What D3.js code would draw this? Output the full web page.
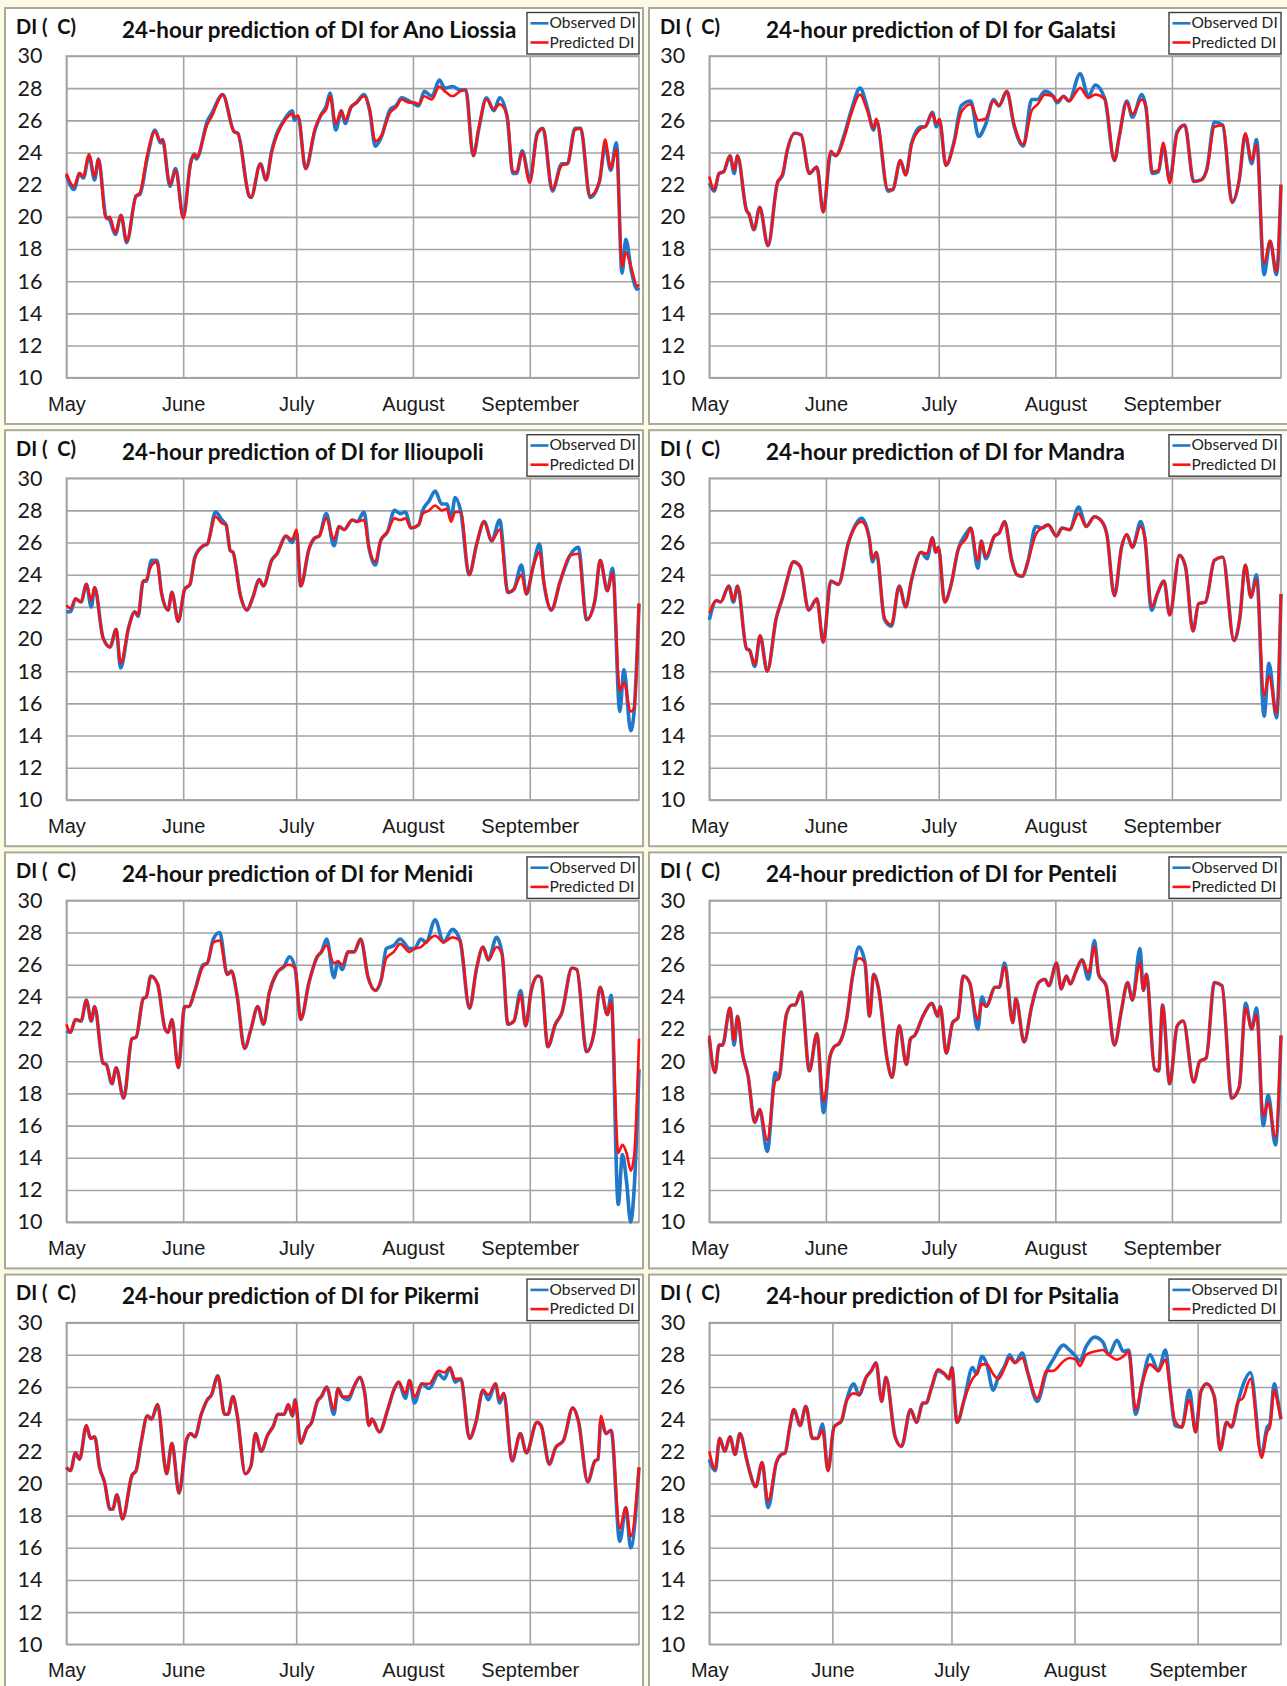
<!DOCTYPE html>
<html>
<head>
<meta charset="utf-8">
<script src="https://cdn.jsdelivr.net/npm/d3@7"></script>
<style>
  html, body { margin: 0; padding: 0; background: #fcfae4; }
  svg { display: block; }
</style>
</head>
<body>
<div id="chart"></div>
<script>
// Day index counted from 1 May (DI in C)
const monthLabels = ["May", "June", "July", "August", "September"];
const monthStarts = [0, 31, 61, 92, 123];
const yTicks = [10, 12, 14, 16, 18, 20, 22, 24, 26, 28, 30];

const anoLiossiaDay = [0,2,3.5,4.5,6,7.5,8.5,10.5,11.5,13,14.5,16,18.5,19.5,21.5,23.5,25,25.5,27.5,29,31,33,34,34.5,37.5,38.5,41.5,44.5,45.5,48.5,49,51.5,53,54.5,58,60,60.5,61.5,63.5,66,67.5,69,70,71.5,73,74,75.5,77,79,80.5,82,83.5,86,87.5,89,91,92.5,93.5,95,97,99,100.5,102.5,104.5,106,108,109.5,111.5,113.5,115,117,118.5,119.5,121,123,125,126.5,129,131.5,133,135,136.5,139,141.5,143,144.5,146,147.5,148.5,150,151.5,152];
const anoLiossiaObs = [22.6,21.7,22.7,22.4,23.8,22.3,23.6,20.0,19.8,18.9,20.1,18.4,21.3,21.4,23.7,25.4,24.6,24.8,21.9,23.0,20.0,23.4,23.9,23.6,26.0,26.4,27.6,25.3,25.2,21.3,21.2,23.3,22.3,24.1,26.1,26.6,26.0,26.2,23.0,25.4,26.3,26.9,27.7,25.4,26.6,25.8,26.8,27.1,27.6,26.6,24.4,24.9,26.7,26.9,27.4,27.2,27.0,26.9,27.8,27.5,28.5,28.0,28.1,27.9,27.9,23.8,25.5,27.4,26.6,27.4,26.2,22.7,22.7,24.1,22.3,25.2,25.5,21.6,23.3,23.3,25.5,25.5,21.2,22.2,24.4,22.9,24.6,16.5,18.6,16.6,15.5,15.6];
const anoLiossiaPred = [22.7,21.9,22.7,22.5,23.9,22.5,23.6,19.9,20.0,19.0,20.1,18.5,21.3,21.5,23.9,25.3,24.7,24.8,22.0,22.9,19.9,23.3,23.9,23.7,25.8,26.2,27.6,25.3,25.2,21.3,21.2,23.3,22.3,24.0,26.0,26.4,26.2,26.3,23.0,25.5,26.3,26.7,27.5,25.8,26.6,26.0,26.8,27.1,27.5,26.7,24.7,25.0,26.5,26.8,27.3,27.1,27.1,27.0,27.5,27.3,28.1,27.8,27.5,27.8,27.9,23.8,25.6,27.3,26.7,27.0,26.3,22.8,22.8,24.0,22.1,25.1,25.5,21.7,23.2,23.3,25.4,25.5,21.3,22.2,24.8,23.0,24.2,16.9,17.8,16.8,15.7,15.8];

const galatsiDay = [0,1.3,2.6,3.8,5.5,6.6,7.5,9.9,10.5,11.9,13.4,15.6,18.1,19.5,20.7,22.7,24.4,26.6,28.6,30.3,32.3,33.6,36,37.6,40.1,42,43.7,44.4,47.5,48.8,50.8,52.2,53.8,56.3,57.4,59.3,60.4,61.2,62.9,65,67,69.5,71.6,73.4,75.6,77,79.1,81,83.5,85.7,87.3,89.2,91.4,92.5,94.2,95.6,98.6,100.8,102.6,105.2,107.7,109,111,112.5,115,116.1,117.8,119.4,120.7,122.4,124.4,126.4,128.8,130.8,132.3,134.3,136.5,139,140.9,142.5,144.2,145.5,147.5,149.1,150.8,152];
const galatsiObs = [22.1,21.6,22.7,22.8,23.8,22.7,23.8,20.4,20.2,19.2,20.6,18.2,22.1,22.6,24.1,25.2,25.1,22.7,23.1,20.3,24.0,23.8,25.2,26.5,28.0,26.8,25.4,26.0,21.6,21.7,23.5,22.6,24.6,25.6,25.6,26.5,25.6,26.0,23.2,24.6,26.9,27.2,25.0,25.7,27.3,26.9,27.8,25.7,24.4,27.3,27.3,27.8,27.5,27.1,27.5,27.2,28.9,27.5,28.2,27.3,23.5,25.0,27.2,26.2,27.6,26.8,22.7,22.8,24.4,22.3,25.3,25.7,22.2,22.3,23.0,25.9,25.7,20.9,22.3,25.1,23.3,24.8,16.4,18.5,16.4,22.0];
const galatsiPred = [22.5,21.7,22.7,22.8,23.8,22.9,23.8,20.4,20.2,19.2,20.6,18.2,22.1,22.7,24.1,25.2,25.1,22.7,23.1,20.3,24.1,23.8,25.0,26.3,27.6,26.6,25.5,26.1,21.7,21.7,23.5,22.6,24.5,25.5,25.6,26.4,25.8,26.1,23.2,24.5,26.5,27.0,26.0,26.1,27.2,26.9,27.8,25.8,24.5,26.6,27.0,27.6,27.5,27.2,27.5,27.2,28.0,27.4,27.6,27.3,23.5,25.0,27.1,26.4,27.3,26.8,22.8,22.9,24.6,22.1,25.2,25.7,22.2,22.3,22.9,25.6,25.7,20.9,22.3,25.2,23.5,24.5,17.1,18.5,16.6,22.0];

const ilioupoliDay = [0,1.1,2.4,3.9,5.3,6.6,7.5,9.7,11.6,13.2,14.4,16.5,18.2,19,20.4,21.2,22.6,24,25.3,27,28,29.7,31.4,32.8,34.1,36.3,37.4,39.6,41.3,42.4,43.5,44.2,46.2,47.9,49.5,51.2,52.3,54.5,55.9,58.3,59.9,61.1,62.2,64.4,66,67.1,69,71,72.4,73.7,75.9,77.2,79,80.3,82,83.4,85.3,87.1,88.6,90,91.5,93.5,94.6,96.3,97.9,99.6,101,102.1,103.2,104.7,106.9,108.9,110.9,112.9,115,117.2,118.8,120.8,122.1,123.8,125.6,126.7,128.7,131.1,133.7,135.9,138.1,140.3,141.7,143.6,145,146.9,148,149.8,150.7,152];
const ilioupoliObs = [21.7,21.7,22.5,22.3,23.4,22.0,23.2,20.1,19.5,20.6,18.2,20.7,21.7,21.4,23.6,23.6,24.9,24.9,22.8,21.8,22.9,21.1,23.1,23.4,25.1,25.8,25.9,27.9,27.4,27.1,25.5,25.4,22.7,21.8,22.6,23.7,23.3,24.9,25.3,26.4,26.0,26.6,23.3,25.6,26.3,26.4,27.8,25.8,27.0,26.8,27.4,27.3,27.9,25.7,24.6,26.1,26.7,28.0,27.8,27.9,26.9,27.1,28.0,28.6,29.2,28.4,28.4,27.5,28.8,27.9,24.0,25.9,27.3,26.1,27.4,22.9,23.1,24.6,22.8,24.4,25.9,23.6,21.8,23.6,25.2,25.7,21.2,22.4,24.9,23.0,24.4,15.5,18.1,14.3,15.5,22.2];
const ilioupoliPred = [22.1,21.9,22.5,22.3,23.4,22.4,23.2,20.1,19.5,20.6,18.5,20.7,21.7,21.5,23.6,23.7,24.6,24.8,22.8,21.8,22.9,21.1,23.1,23.4,25.0,25.8,25.9,27.6,27.2,27.1,25.5,25.4,22.7,21.8,22.6,23.7,23.3,24.9,25.3,26.4,26.2,26.8,23.3,25.6,26.3,26.4,27.5,26.2,27.0,26.8,27.4,27.3,27.4,25.7,24.8,26.1,26.7,27.5,27.4,27.5,26.9,27.1,27.8,28.0,28.3,28.0,28.1,27.3,27.9,27.9,24.0,25.9,27.3,26.1,26.8,22.9,23.1,24.0,22.8,24.4,25.4,23.6,21.8,23.6,25.2,25.3,21.2,22.4,24.9,23.0,24.1,16.8,17.3,15.5,15.7,22.2];

const mandraDay = [0,1.9,3,5.2,6.4,7.5,9.9,10.7,12.1,13.5,15.4,17.8,19.5,20.7,22.4,24.2,26.4,28.6,30.3,32.3,34.3,37,40.5,42.5,43.4,44.4,46.6,48.4,50.5,52.2,53.8,56.3,57.9,59.3,60.2,60.9,62.6,64.2,66.2,68.4,69.5,71.4,72.3,73.5,75.8,77.1,78.5,80.4,81.8,83.2,84.8,86.8,88.4,90.1,92.3,93.8,95.8,98.2,100.2,102.4,104.4,105.7,107.7,109.6,111,112.5,114.7,115.8,117.6,119.1,120.9,122.4,125,126.6,128.6,130.1,131.9,134.3,136.5,139.5,141.1,142.5,144,145.5,147.5,148.8,150.8,152];
const mandraObs = [21.2,22.4,22.3,23.3,22.3,23.3,19.4,19.3,18.3,20.2,18.0,21.3,22.6,23.7,24.8,24.5,21.8,22.5,19.8,23.6,23.4,26.0,27.5,26.3,24.8,25.4,21.2,20.8,23.3,22.0,23.7,25.4,25.0,26.3,25.4,25.7,22.3,23.3,25.6,26.6,26.9,24.4,26.1,25.0,26.4,26.6,27.3,24.9,24.0,23.9,24.9,27.0,26.9,27.1,26.4,26.9,26.8,28.2,27.0,27.6,27.3,26.5,22.7,25.7,26.5,25.7,27.3,26.3,21.8,22.8,23.6,21.5,25.2,24.5,20.5,22.2,22.3,24.9,25.1,19.9,21.4,24.6,22.6,24.0,15.2,18.5,15.1,22.8];
const mandraPred = [21.6,22.4,22.3,23.3,22.4,23.3,19.4,19.3,18.4,20.2,18.0,21.3,22.6,23.7,24.8,24.5,21.8,22.5,19.8,23.6,23.4,26.0,27.3,26.3,25.0,25.4,21.3,20.9,23.3,22.0,23.7,25.4,25.3,26.3,25.4,25.7,22.3,23.3,25.6,26.3,26.9,24.9,26.1,25.1,26.4,26.6,27.3,24.9,24.0,23.9,24.9,26.5,26.9,27.1,26.4,26.9,26.8,27.8,27.0,27.6,27.3,26.5,22.7,25.7,26.5,25.7,27.0,26.3,22.0,22.8,23.6,21.5,25.2,24.5,20.5,22.2,22.3,24.9,25.1,19.9,21.4,24.6,22.6,23.7,16.5,17.7,15.4,22.8];

const menidiDay = [0,1.1,2.4,3.9,5.3,6.6,7.5,9.7,10.6,12.1,13.2,15.2,17.4,18.5,20.4,21.2,22.4,24.2,26.2,27,28,29.7,31.4,32.5,34.1,36.3,37.4,39,40.7,42.7,43.8,45.3,47.3,49,50.8,52.3,53.9,55.9,57.8,59.2,60.7,62.2,64.4,66.6,67.7,69.1,71,72.1,73.2,74.8,76.4,78.1,80.1,82,83.6,84.9,86.9,88.6,91.1,92.4,94.1,95.5,97.9,100.1,102.5,104.5,107,108.9,110.6,112,114.2,115.7,117.2,118.8,120.6,121.9,123.4,125.2,126,127.8,129.8,131.5,134.2,135.5,138.1,140,141.7,143.6,144.6,146.5,147.6,148.7,149.8,150.7,152];
const menidiObs = [21.9,21.8,22.6,22.5,23.8,22.5,23.4,19.9,19.8,18.6,19.6,17.7,21.4,21.5,23.9,24.0,25.3,24.8,22.0,21.8,22.6,19.6,23.4,23.4,24.4,26.0,26.1,27.6,28.0,25.4,25.6,24.1,20.8,22.0,23.4,22.3,24.3,25.5,25.9,26.5,25.8,22.6,24.9,26.5,26.8,27.6,25.2,26.2,25.7,26.8,26.8,27.6,25.2,24.4,25.1,27.0,27.2,27.6,27.0,27.0,27.6,27.4,28.8,27.4,28.2,27.5,23.3,25.8,27.1,26.3,27.7,26.6,22.3,22.5,24.4,22.2,24.4,25.3,25.2,20.9,22.3,23.0,25.8,25.7,20.6,21.7,24.6,22.9,24.1,11.1,14.2,12.5,10.0,12.0,19.5];
const menidiPred = [22.3,21.8,22.6,22.5,23.8,22.5,23.4,19.9,19.8,18.6,19.6,17.7,21.4,21.5,23.9,24.0,25.3,24.8,22.0,21.8,22.6,19.6,23.4,23.4,24.4,25.9,26.1,27.4,27.5,25.4,25.6,24.1,20.8,22.0,23.4,22.3,24.3,25.5,25.9,26.0,25.8,22.6,24.9,26.5,26.8,27.2,26.1,26.2,26.0,26.8,26.8,27.6,25.2,24.4,25.1,26.4,26.8,27.3,26.8,27.0,27.1,27.4,27.8,27.4,27.7,27.5,23.3,25.8,27.1,26.3,27.1,26.6,22.3,22.5,24.1,22.2,24.4,25.3,25.2,20.9,22.3,23.0,25.8,25.7,20.6,21.7,24.6,22.9,23.7,14.3,14.8,14.3,13.2,14.1,21.4];

const penteliDay = [0,1.5,2.6,3.5,5.5,6.6,7.5,8.8,10.3,12.1,13.4,15.4,17.6,18.4,20.5,22,22.8,24.4,26.6,28.6,30.4,32.1,33.2,34.5,36.5,38.1,39.8,41.4,42.6,43.7,45,47.3,48.6,50.5,52.4,53.5,54.6,56.8,59.2,60.7,61.4,63,64.7,66.1,67.5,69.2,71.4,72.5,73.6,76,77.1,78.5,80.7,81.5,83.7,85.7,87.6,89.2,90.3,92.3,93.6,94.9,96,97.5,99.1,100.8,102.4,103.5,105.5,107.7,109.6,111.2,112.5,114.5,115.4,116.2,118.4,119.5,120.5,122.4,124.4,126,128.8,130.4,132.1,134.3,136.3,138.9,140.9,142.6,144.2,145.5,147.3,148.6,150.5,152];
const penteliObs = [21.4,19.3,21.0,21.0,23.3,21.0,22.8,20.5,19.1,16.2,17.0,14.4,19.3,18.9,22.9,23.5,23.5,24.3,19.4,21.7,16.8,20.3,20.9,21.1,22.6,25.3,27.1,26.1,22.8,25.4,24.5,20.1,19.0,22.2,19.8,21.4,21.6,22.8,23.6,22.8,23.4,20.5,22.4,22.7,25.3,24.9,22.0,24.0,23.4,24.6,24.6,26.1,22.4,23.9,21.2,23.4,24.9,25.1,24.7,26.1,24.5,25.3,24.8,25.6,26.3,25.1,27.5,25.4,24.7,21.0,23.2,24.9,23.8,27.0,24.4,25.4,19.5,19.4,23.5,18.6,22.2,22.5,18.7,20.0,20.2,24.9,24.7,17.7,18.4,23.6,22.0,23.3,16.0,17.9,14.8,21.6];
const penteliPred = [21.6,19.3,21.0,21.0,23.3,21.3,22.8,20.5,19.1,16.2,17.0,15.1,18.8,18.9,22.9,23.5,23.5,24.3,19.4,21.7,17.5,20.3,20.9,21.1,22.6,25.3,26.4,26.1,22.8,25.4,24.5,20.1,19.0,22.2,19.8,21.4,21.6,22.8,23.6,22.8,23.4,20.5,22.4,22.7,25.3,24.9,22.6,23.6,23.4,24.6,24.6,25.9,22.4,23.9,21.2,23.4,24.9,25.1,24.7,26.1,24.5,25.3,24.8,25.6,26.3,25.5,27.1,25.4,24.7,21.0,23.2,24.9,23.8,26.1,24.4,25.4,19.5,19.4,23.5,18.6,22.2,22.5,18.7,20.0,20.2,24.9,24.7,17.7,18.4,23.3,22.0,22.9,16.6,17.4,15.3,21.6];

const pikermiDay = [0,1.1,2.4,3.5,5.3,6.4,7.5,8.8,10.1,11.6,12.3,13.4,14.9,17.4,18.5,19.8,21.5,22.6,24.2,26.2,26.6,28,29.9,31.9,33,34.1,35.8,37.4,38.5,40.2,42,42.9,44.2,45.3,47.5,49,50.2,51.7,53.4,55,56.1,57.8,58.9,60,60.7,62.2,63.8,65.1,66.6,67.7,69.1,71,72.1,73.2,74.8,76.5,77.9,79.2,80.3,81.1,83.1,85.3,86.9,88.2,90,91.1,92.4,94.4,96.3,98.8,100.3,101.8,103.2,104.7,107,108.7,110.6,112,113.9,115,116.1,118.3,120.5,122.1,124.9,126,128.2,129.8,132,134.4,135.9,138.4,140.3,141.1,141.9,143.2,144.6,146.9,148.5,149.8,152];
const pikermiObs = [21.0,20.8,21.9,21.5,23.6,22.8,22.9,21.0,20.1,18.4,18.4,19.3,17.8,20.5,20.8,22.5,24.2,24.0,24.9,21.0,20.6,22.5,19.4,22.7,23.1,22.9,24.3,25.2,25.5,26.7,24.3,24.3,25.4,24.3,20.6,21.1,23.1,22.0,23.0,23.6,24.3,24.3,24.9,24.2,25.2,22.5,23.4,23.8,25.1,25.4,26.0,24.3,25.9,25.4,25.2,26.1,26.6,25.6,23.6,24.0,23.2,24.6,25.8,26.3,25.3,26.4,25.0,26.2,25.9,26.8,26.5,27.2,26.3,26.5,22.8,23.8,25.8,25.2,26.2,25.0,25.6,21.4,23.1,21.9,23.8,23.6,21.2,22.2,22.7,24.7,23.9,20.1,21.4,21.5,24.0,23.1,23.3,16.4,18.5,16.0,21.0];
const pikermiPred = [21.0,20.8,21.9,21.5,23.6,22.8,22.9,21.0,20.1,18.4,18.4,19.3,17.8,20.5,20.8,22.5,24.2,24.0,24.9,21.0,20.6,22.5,19.4,22.8,23.1,22.9,24.3,25.2,25.5,26.7,24.3,24.3,25.4,24.3,20.6,21.1,23.1,22.0,23.0,23.6,24.3,24.3,24.9,24.2,25.2,22.5,23.4,23.8,25.1,25.4,26.0,24.6,25.9,25.4,25.4,26.1,26.6,25.6,23.6,24.0,23.2,24.6,25.8,26.3,25.6,26.4,25.4,26.2,26.2,27.0,26.9,27.2,26.5,26.5,22.8,23.8,25.8,25.5,26.2,25.2,25.6,21.4,23.1,21.9,23.8,23.6,21.2,22.2,22.7,24.7,23.9,20.1,21.4,21.5,24.2,23.1,23.3,17.2,18.5,16.7,21.0];

const psitaliaDay = [0,1.5,2.6,3.9,5.2,6.5,7.7,9.4,10.1,11.7,13.3,14.8,16.9,18.1,19.1,20.2,21.3,22.9,24.3,26,27.3,28.5,29.9,31.4,33.3,34.5,36.4,37.7,39.5,40.8,42,43.4,44.5,46.8,48.4,50.7,52.2,53.8,54.6,55.9,57.6,59.3,60.4,61.1,62.4,64.2,66.3,67.3,68.7,69.9,71.5,72.8,74.6,75.6,77,78.8,80.3,82.6,85,86.6,89.2,90.7,92.3,93.3,94.9,97,99.1,100.6,102.7,104.3,105.6,107.4,109,111,113.1,114.9,116.2,117.3,119,120.9,122.5,123.8,125.3,127.2,128.7,130.3,131.5,133.2,134.4,136.3,139.1,140.5,141.2,142.3,143.3,144];
const psitaliaObs = [21.5,20.8,22.8,22.0,22.9,21.8,23.1,21.5,20.8,19.8,21.3,18.5,21.3,21.8,21.9,23.4,24.6,23.6,24.8,22.8,22.8,23.7,20.8,23.5,23.9,25.1,26.2,25.5,26.6,27.0,27.5,25.1,26.6,22.9,22.3,24.6,23.8,25.0,25.0,25.9,27.0,26.8,26.5,27.2,23.8,25.2,27.2,26.8,27.9,27.4,25.8,26.6,27.4,28.0,27.5,28.1,26.8,25.1,27.0,27.7,28.6,28.3,27.9,27.6,28.5,29.1,28.8,28.0,28.9,28.2,28.3,24.3,26.2,28.0,27.0,28.3,25.6,23.6,23.5,25.8,23.2,25.7,26.2,25.4,22.1,23.8,23.5,25.1,26.1,26.9,21.8,23.5,23.7,26.2,25.0,24.0];
const psitaliaPred = [22.0,20.9,22.8,22.0,22.9,21.8,23.1,21.5,20.8,19.8,21.3,18.9,21.3,21.8,21.9,23.4,24.6,23.6,24.8,22.8,22.8,23.3,20.8,23.5,23.9,25.1,25.6,25.5,26.6,27.0,27.5,25.1,26.6,22.9,22.3,24.6,23.8,25.0,25.0,25.9,27.1,26.8,26.5,27.2,23.8,25.2,26.5,26.8,27.4,27.4,26.8,26.5,27.3,27.8,27.5,27.8,26.8,25.3,27.0,27.0,27.6,27.8,27.7,27.3,28.0,28.2,28.3,28.0,27.7,27.9,28.2,24.6,26.2,27.4,27.0,27.7,25.6,23.9,23.5,25.2,23.2,25.7,26.2,25.4,22.1,23.8,23.5,25.1,25.3,26.5,21.6,23.2,23.5,25.8,24.8,24.0];

const stations = [
  { name: "Ano Liossia", day: anoLiossiaDay, obs: anoLiossiaObs, pred: anoLiossiaPred, lastDay: 152 },
  { name: "Galatsi", day: galatsiDay, obs: galatsiObs, pred: galatsiPred, lastDay: 152 },
  { name: "Ilioupoli", day: ilioupoliDay, obs: ilioupoliObs, pred: ilioupoliPred, lastDay: 152 },
  { name: "Mandra", day: mandraDay, obs: mandraObs, pred: mandraPred, lastDay: 152 },
  { name: "Menidi", day: menidiDay, obs: menidiObs, pred: menidiPred, lastDay: 152 },
  { name: "Penteli", day: penteliDay, obs: penteliObs, pred: penteliPred, lastDay: 152 },
  { name: "Pikermi", day: pikermiDay, obs: pikermiObs, pred: pikermiPred, lastDay: 152 },
  { name: "Psitalia", day: psitaliaDay, obs: psitaliaObs, pred: psitaliaPred, lastDay: 144 }
];

const width = 1287, height = 1686;
const columns = [
  { boxLeft: 5, boxRight: 643, plotLeft: 66.4, plotRight: 639 },
  { boxLeft: 649, boxRight: 1290, plotLeft: 709.3, plotRight: 1281 }
];
const rowStep = 422.2;
const boxTop0 = 8, boxHeight = 416;
const plotTop0 = 56, plotHeight = 321.7;

const obsColor = "#1f78c8";
const predColor = "#ff1010";
const gridColor = "#a3a3a3";

const svg = d3.select("#chart").append("svg")
  .attr("width", width)
  .attr("height", height);

svg.append("rect")
  .attr("width", width)
  .attr("height", height)
  .attr("fill", "#fcfae4");

stations.forEach((s, i) => {
  if (s.day.length !== s.obs.length || s.day.length !== s.pred.length) {
    throw new Error(s.name + " length mismatch " + s.day.length + "/" + s.obs.length + "/" + s.pred.length);
  }
  const col = columns[i % 2];
  const row = Math.floor(i / 2);
  const boxTop = boxTop0 + row * rowStep;
  const top = plotTop0 + row * rowStep;
  const bottom = top + plotHeight;
  const left = col.plotLeft, right = col.plotRight;

  const g = svg.append("g");

  // panel frame
  g.append("rect")
    .attr("x", col.boxLeft)
    .attr("y", boxTop)
    .attr("width", col.boxRight - col.boxLeft)
    .attr("height", boxHeight)
    .attr("fill", "#ffffff")
    .attr("stroke", "#a9a99c")
    .attr("stroke-width", 2);

  const x = d3.scaleLinear().domain([0, s.lastDay]).range([left, right]);
  const y = d3.scaleLinear().domain([10, 30]).range([bottom, top]);

  // horizontal grid + y labels
  const yAxis = g.append("g")
    .attr("transform", `translate(${left},0)`)
    .attr("color", gridColor)
    .call(d3.axisLeft(y).tickValues(yTicks).tickSize(-(right - left)).tickPadding(24).tickFormat(d3.format("d")));
  yAxis.select(".domain").remove();
  yAxis.selectAll("line").attr("stroke-width", 1.6);
  yAxis.selectAll("text")
    .attr("fill", "#1a1a1a")
    .style("font-family", "Lato, 'Open Sans', sans-serif")
    .style("font-size", "21.5px");

  // vertical grid + month labels
  const xAxis = g.append("g")
    .attr("transform", `translate(0,${bottom})`)
    .attr("color", gridColor)
    .call(d3.axisBottom(x).tickValues(monthStarts).tickSize(-(bottom - top)).tickPadding(19)
      .tickFormat((d, k) => monthLabels[k]));
  xAxis.select(".domain").remove();
  xAxis.selectAll("line").attr("stroke-width", 1.6);
  xAxis.selectAll("text")
    .attr("fill", "#1a1a1a")
    .style("font-family", "'Liberation Sans', Arial, sans-serif")
    .style("font-size", "20px");

  g.append("rect")
    .attr("x", left)
    .attr("y", top)
    .attr("width", right - left)
    .attr("height", bottom - top)
    .attr("fill", "none")
    .attr("stroke", gridColor)
    .attr("stroke-width", 1.6);

  // lines
  const clipId = "clip" + i;
  svg.append("clipPath").attr("id", clipId)
    .append("rect")
    .attr("x", left - 2).attr("y", top - 2)
    .attr("width", right - left + 4).attr("height", bottom - top + 4);

  const lineOf = vals => d3.line()
    .x((d, k) => x(s.day[k]))
    .y(d => y(d))
    .curve(d3.curveMonotoneX)(vals);

  const lines = g.append("g").attr("clip-path", `url(#${clipId})`);
  lines.append("path")
    .attr("d", lineOf(s.obs))
    .attr("fill", "none")
    .attr("stroke", obsColor)
    .attr("stroke-width", 3.6)
    .attr("stroke-linejoin", "round");
  lines.append("path")
    .attr("d", lineOf(s.pred))
    .attr("fill", "none")
    .attr("stroke", predColor)
    .attr("stroke-width", 2.6)
    .attr("stroke-linejoin", "round");

  // unit label and title
  g.append("text")
    .attr("x", col.boxLeft + 11)
    .attr("y", boxTop + 25.5)
    .attr("fill", "#111")
    .style("font-family", "Lato, sans-serif")
    .style("font-weight", "bold")
    .style("font-size", "20px")
    .style("white-space", "pre")
    .text("DI (  C)");

  g.append("text")
    .attr("x", col.boxLeft + 117)
    .attr("y", boxTop + 29.5)
    .attr("fill", "#111")
    .style("font-family", "Lato, sans-serif")
    .style("font-weight", "bold")
    .style("font-size", "22.4px")
    .text("24-hour prediction of DI for " + s.name);

  // legend
  const lx = right - 112, ly = boxTop + 4.5;
  const legend = g.append("g").attr("transform", `translate(${lx},${ly})`);
  legend.append("rect")
    .attr("width", 112).attr("height", 41.5)
    .attr("fill", "#ffffff")
    .attr("stroke", "#3c3c3c")
    .attr("stroke-width", 1.4);
  [["Observed DI", obsColor, 10.8], ["Predicted DI", predColor, 30]].forEach(([label, color, ry]) => {
    legend.append("line")
      .attr("x1", 3.5).attr("x2", 21.5)
      .attr("y1", ry).attr("y2", ry)
      .attr("stroke", color)
      .attr("stroke-width", 2.6);
    legend.append("text")
      .attr("x", 22.5)
      .attr("y", ry + 5)
      .attr("fill", "#222")
      .style("font-family", "Lato, sans-serif")
      .style("font-size", "15.5px")
      .text(label);
  });
});
</script>
</body>
</html>
